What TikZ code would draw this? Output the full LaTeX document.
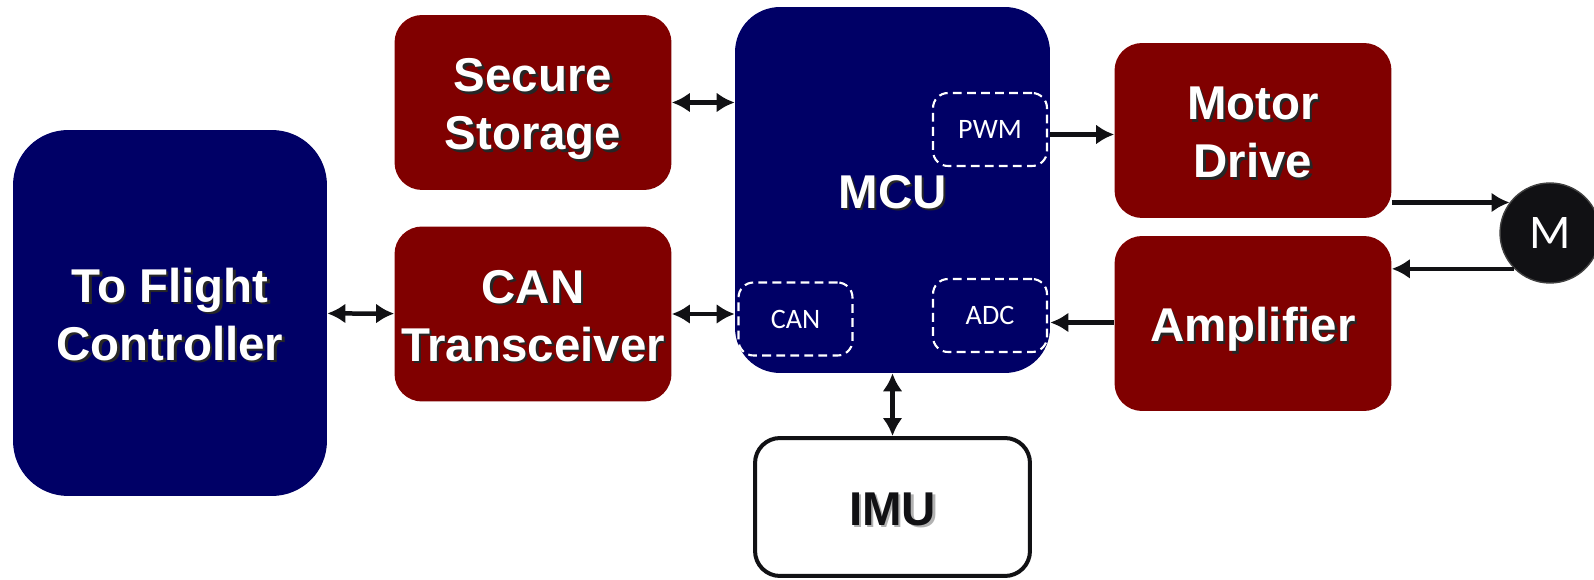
\documentclass[tikz,border=0pt]{standalone}
\usepackage{fontspec}
\setmainfont{Liberation Sans}
\newfontfamily\calfont{Carlito}
\usetikzlibrary{arrows.meta, positioning}
\definecolor{mcunavy}{RGB}{0,0,102}
\definecolor{blockred}{RGB}{128,0,0}
\definecolor{inkblack}{RGB}{17,17,20}
% white label with a soft drop shadow, set a little low in its box
\newcommand{\shadowed}[2][black!85]{%
  \raisebox{0pt}[\dimexpr\height+9pt\relax][\depth]{%
  \makebox[0pt][l]{\raisebox{-1.4pt}{\hspace{1.4pt}\color{#1}\begin{tabular}{@{}c@{}}#2\end{tabular}}}%
  \begin{tabular}{@{}c@{}}#2\end{tabular}}}

\begin{document}
\begin{tikzpicture}[
      x=0.02cm, y=-0.02cm,
      big/.style={inner sep=0pt, text=white,
                  font=\fontsize{27}{33}\selectfont\bfseries},
      bluebox/.style={big, fill=mcunavy},
      redbox/.style={big, fill=blockred, rounded corners=0.55cm,
                     minimum width=5.54cm, minimum height=3.5cm},
      sub/.style={draw=white, dash pattern=on 5pt off 3pt, line width=1.2pt,
                  rounded corners=0.3cm, minimum width=2.28cm, minimum height=1.46cm,
                  text=white, font=\calfont\fontsize{16}{18}\selectfont},
      arr/.style={-{Latex[length=0.36cm,width=0.4cm]}, line width=0.09cm, draw=inkblack},
      dbl/.style={arr, {Latex[length=0.36cm,width=0.4cm]}-{Latex[length=0.36cm,width=0.4cm]}},
    ]
    \useasboundingbox (0,0) rectangle (1594,580);

    % Flight controller side
    \node[bluebox, minimum width=6.28cm, minimum height=7.32cm, rounded corners=1.1cm]
      (fc) at (170,313) {\shadowed{To Flight\\Controller}};
    \node[redbox] (store) at (533,102.5) {\shadowed{Secure\\Storage}};
    \node[redbox] (cantr) at (533,314)   {\shadowed{CAN\\Transceiver}};

    % MCU and its peripherals
    \node[bluebox, minimum width=6.3cm, minimum height=7.32cm, rounded corners=0.9cm]
      (mcu) at (892.5,190) {\shadowed{MCU}};
    \node[sub] (pwm)    at (990,129.5)   {PWM};
    \node[sub] (cancan) at (795.5,319)   {CAN};
    \node[sub] (adc)    at (990,315.5)   {ADC};

    \node[draw=inkblack, line width=0.08cm, fill=white, rounded corners=0.5cm,
          minimum width=5.5cm, minimum height=2.76cm, inner sep=0pt, text=inkblack,
          font=\fontsize{27}{33}\selectfont\bfseries]
      (imu) at (892.5,507) {\shadowed[black!30]{IMU}};

    % Motor side
    \node[redbox] (motor) at (1253,130.5) {\shadowed{Motor\\Drive}};
    \node[redbox] (amp)   at (1253,323.5) {\shadowed{Amplifier}};
    \node[circle, fill=inkblack, draw=black!75, line width=0.8pt, minimum size=2cm,
          inner sep=0pt, text=white, font=\calfont\fontsize{27.5}{30}\selectfont]
      (m) at (1550,233) {M};

    % Connections
    \draw[dbl] (fc) -- (cantr);
    \draw[dbl] (store) -- (store -| mcu.west);
    \draw[dbl] (cantr) -- (cantr -| mcu.west);
    \draw[dbl] (mcu.south) -- (imu.north);
    \draw[arr] ([yshift=-0.1cm]mcu.east |- pwm) -- ([yshift=-0.1cm]pwm -| motor.west);
    \draw[arr] (motor.east |- m.143) -- (m.143);
    \draw[arr] (m.225) -- (m.225 -| amp.east);
    \draw[arr] ([yshift=-0.14cm]amp.west |- adc) -- ([yshift=-0.14cm]mcu.east |- adc);

  \end{tikzpicture}
\end{document}
